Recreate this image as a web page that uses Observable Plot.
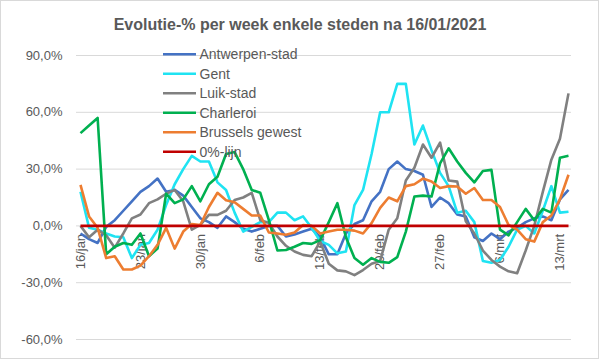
<!DOCTYPE html>
<html><head><meta charset="utf-8">
<script src="https://cdn.jsdelivr.net/npm/d3@7"></script>
<script src="https://cdn.jsdelivr.net/npm/@observablehq/plot@0.6"></script>
<style>body{margin:0;background:#fff}#chart{width:599px;height:359px}</style>
</head><body><div id="chart"></div>
<script>
const titleText = "Evolutie-% per week enkele steden na 16/01/2021";
const startDate = "2021-01-16";
const seriesNames = ["Antwerpen-stad", "Gent", "Luik-stad", "Charleroi", "Brussels gewest", "0%-lijn"];
const seriesColors = ["#4472C4", "#1FE3F2", "#808080", "#00B050", "#ED7D31", "#C00000"];

const antwerpen = [-4,-7,-9,-0.5,3,8,13,18,21,25,18,19,16,10,4,2,-1,5,2,-1.5,-3,-1.5,0,0,-5.6,-4.5,-3,-1.5,-6,-15,-15,-4,1,3,13,18,30,34,30,29,27,10,15,12,6,5,-6,-8,-4,-7,-3,-1,2,4,5,3,14,19];
const gent = [18,-1,-2,-4,-5.6,-6,-17,-10,-9,-2,11,22,30,37,34,34,23,19,7,-3,-0.5,2,2,7,7,3,5,-1,-8,-10,-14.5,-13.5,11,19,38,60,60,75,75,43,53,40,28,21,7,8,2,-18.5,-19.5,-18,-11,-2,0,-4,8,21,7,7.5];
const luik = [0,-6,-2,-5,-11.5,-4,4,6,12,14,17,19,13,-2,0.5,5.8,5.8,8,13.7,15,17.5,3,1.6,-5.6,-10.5,-13.5,-15.3,-16,-8.3,-20,-23.5,-24,-26,-23.3,-20,-18.5,-2,4,24,30.7,43,36,44,24,23.4,2.5,-4,-13,-18,-21.5,-24,-25,-13,0,18,35,46,70];
const charleroi = [49,53,57,-15,-11,-9,-10,-4,-16,-12,17,12,14,21,13,22,26,38,39,30,19,17.5,3,-13,-12.7,-11,-9,-9.5,-7.5,2,12,-6,-17,-20.5,-17,-19,-19.5,-16.5,-3,15.5,16,15.5,33,41,34,28,23,29,29.6,-2,-5,2,9,3,9,7,36,37];
const brussel = [21.7,5,-1,-17,-16,-23,-23,-21,-16,-10,-1,-12,-3,1,0.5,10,17.5,13.5,12.5,9,5.5,5.5,-3.5,-4,-4.7,-3.5,0.5,0,-4,-3,-2,-2,-2.5,-4,1.5,9.5,15,13,21,22,25,23.5,20,21,20.8,17,20,13.7,13.7,10,0.5,-2,-7,-8.3,2,5.5,14,27];
const nullLijn = [0,0,0,0,0,0,0,0,0,0,0,0,0,0,0,0,0,0,0,0,0,0,0,0,0,0,0,0,0,0,0,0,0,0,0,0,0,0,0,0,0,0,0,0,0,0,0,0,0,0,0,0,0,0,0,0,0,0];

const yTicks = [-60, -30, 0, 30, 60, 90];
const tickDates = ["2021-01-16","2021-01-23","2021-01-30","2021-02-06","2021-02-13","2021-02-20","2021-02-27","2021-03-06","2021-03-13"];
const tickLabels = ["16/jan","23/jan","30/jan","6/feb","13/feb","20/feb","27/feb","6/mrt","13/mrt"];

const allSeries = [antwerpen, gent, luik, charleroi, brussel, nullLijn];
const start = new Date(startDate + "T00:00:00Z");
const rows = [];
allSeries.forEach((vals, s) => vals.forEach((v, i) => rows.push({series: seriesNames[s], date: d3.utcDay.offset(start, i), value: v})));
const end = d3.utcDay.offset(start, antwerpen.length - 1);
const ticks = tickDates.map((d, i) => ({date: new Date(d + "T00:00:00Z"), label: tickLabels[i]}));

const font = "'Liberation Sans', Arial, sans-serif";
const chart = Plot.plot({
  width: 599, height: 359,
  marginLeft: 76, marginRight: 28, marginTop: 55, marginBottom: 20,
  insetLeft: 4, insetRight: 3,
  style: {fontFamily: font, background: "white", color: "#595959", overflow: "visible"},
  x: {type: "utc", domain: [start, end], axis: null},
  y: {domain: [-60, 90], axis: null},
  color: {domain: seriesNames, range: seriesColors},
  marks: [
    Plot.ruleY(yTicks, {stroke: "#d9d9d9", strokeWidth: 1}),
    Plot.axisY(yTicks, {tickSize: 0, tickPadding: 14, fontSize: 13, fill: "#595959",
      tickFormat: d => d.toFixed(1).replace(".", ",") + "%", label: null}),
    Plot.text(ticks, {x: "date", y: () => 0, text: "label", rotate: -90, textAnchor: "end", dy: 8, fill: "#595959", fontSize: 13}),
    Plot.line(rows, {x: "date", y: "value", z: "series", stroke: "series", strokeWidth: 2.6, strokeLinejoin: "round", strokeLinecap: "butt"})
  ]
});

const svg = d3.select(chart);
svg.append("rect").attr("x", 0.5).attr("y", 0.5).attr("width", 598).attr("height", 358)
  .attr("fill", "none").attr("stroke", "#d9d9d9");
svg.append("text").attr("x", 300).attr("y", 30).attr("text-anchor", "middle")
  .attr("font-family", font).attr("font-weight", "bold").attr("font-size", 16).attr("fill", "#595959").text(titleText);
const lg = svg.append("g").attr("text-anchor", "start");
seriesNames.forEach((name, i) => {
  const y = 54.3 + 19.5 * i;
  lg.append("line").attr("x1", 163).attr("x2", 196).attr("y1", y).attr("y2", y)
    .attr("stroke", seriesColors[i]).attr("stroke-width", 2.6);
  lg.append("text").attr("x", 199.5).attr("y", y).attr("dy", "0.35em").attr("text-anchor", "start")
    .attr("font-family", font).attr("font-size", 14).attr("fill", "#595959").text(name);
});
document.getElementById("chart").appendChild(chart);
</script>
</body></html>
